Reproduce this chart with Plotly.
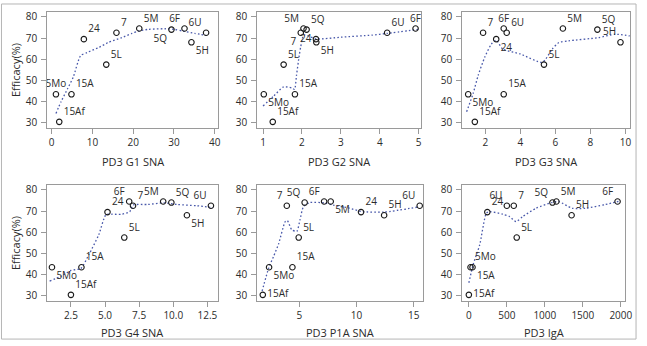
import plotly.graph_objects as go

# ---------------- data ----------------
serotypes = ["5M", "5Q", "6F", "6U", "7", "24", "5H", "5L", "5Mo", "15A", "15Af"]
efficacy = [74.5, 74.0, 74.5, 72.5, 72.5, 69.5, 68.0, 57.5, 43.5, 43.5, 30.5]

g1_sna = [21.5, 29.4, 32.6, 37.9, 15.9, 7.9, 34.3, 13.4, 1.05, 4.86, 1.86]
g2_sna = [2.04, 2.12, 4.92, 4.19, 1.97, 2.36, 2.37, 1.53, 1.02, 1.82, 1.25]
g3_sna = [6.43, 8.40, 3.05, 3.22, 1.87, 2.62, 9.72, 5.35, 1.02, 3.05, 1.40]
g4_sna = [9.26, 9.86, 6.77, 12.76, 7.05, 5.18, 11.0, 6.41, 1.11, 3.27, 2.5]
p1a_sna = [7.74, 5.46, 7.16, 15.52, 3.90, 10.39, 12.41, 4.94, 2.35, 4.39, 1.80]
iga = [1152, 1100, 1957, 500, 591, 243, 1352, 630, 22, 48, 0]

# smoothed trend curves
trend_g1_x = [1.05, 2.3, 3.9, 5.3, 7.1, 8.7, 11.6, 14.0, 17.2, 19.7, 21.3, 23.7, 27.8, 30.2, 32.2, 35.1, 37.9]
trend_g1_y = [34.5, 40.0, 46.1, 51.6, 61.7, 63.2, 65.6, 68.0, 70.2, 72.2, 73.3, 74.1, 74.4, 74.1, 73.3, 72.2, 71.3]
trend_g2_x = [1.0, 1.27, 1.53, 1.74, 1.81, 1.86, 1.93, 1.97, 2.05, 2.37, 3.0, 3.8, 4.19, 5.0]
trend_g2_y = [38.0, 42.6, 47.0, 46.5, 45.8, 52.4, 61.7, 66.0, 71.5, 69.6, 70.4, 71.4, 72.2, 74.1]
trend_g3_x = [0.93, 1.3, 1.59, 1.96, 2.34, 2.62, 3.0, 4.0, 5.26, 5.82, 6.2, 6.76, 8.46, 9.4, 10.25]
trend_g3_y = [35.3, 43.8, 52.4, 60.9, 67.1, 69.0, 64.8, 62.5, 58.6, 64.8, 67.9, 68.7, 70.2, 71.8, 71.0]
trend_g4_x = [0.94, 1.78, 2.5, 3.22, 3.82, 4.54, 5.06, 5.5, 6.21, 6.81, 7.05, 8.13, 9.33, 10.29, 11.73, 12.92]
trend_g4_y = [37.0, 39.3, 42.0, 42.9, 49.5, 58.8, 68.2, 68.5, 68.5, 69.7, 72.8, 73.1, 73.9, 73.1, 72.5, 71.6]
trend_p1a_x = [1.74, 2.32, 2.75, 3.18, 3.76, 3.95, 4.33, 4.77, 5.05, 5.35, 5.92, 7.2, 7.94, 9.35, 10.4, 12.4, 15.5]
trend_p1a_y = [32.3, 43.2, 48.7, 54.5, 65.0, 65.5, 61.2, 60.4, 65.8, 72.0, 74.0, 73.8, 72.8, 71.4, 69.8, 69.5, 72.0]
trend_iga_x = [0, 57, 143, 230, 274, 448, 535, 622, 709, 883, 1100, 1187, 1361, 1535, 1796, 1991]
trend_iga_y = [36.2, 44.8, 54.1, 69.0, 69.7, 68.5, 67.4, 65.0, 67.4, 71.3, 74.1, 74.4, 71.3, 71.3, 73.1, 74.7]

x_titles = ["PD3 G1 SNA", "PD3 G2 SNA", "PD3 G3 SNA", "PD3 G4 SNA", "PD3 P1A SNA", "PD3 IgA"]
y_title = "Efficacy(%)"
y_ticks = [30, 40, 50, 60, 70, 80]
x_ticks = [
    [0, 10, 20, 30, 40],
    [1, 2, 3, 4, 5],
    [2, 4, 6, 8, 10],
    [2.5, 5.0, 7.5, 10.0, 12.5],
    [5, 10, 15],
    [0, 500, 1000, 1500, 2000],
]

# ---------------- style / layout ----------------
W, H = 647, 346
FONT = "Open Sans, Noto Sans, Arial, sans-serif"
TEXT = "#2b2b2b"
AXC = "#9a9a9a"
LINEC = "#4858aa"

label_pos = [
    ["top right", "bottom left", "top left", "top left", "top right", "top right", "bottom right", "top right", "top center", "top right", "top right"],
    ["top left", "top right", "top center", "top right", "bottom left", "middle left", "bottom right", "top right", "bottom right", "top right", "top right"],
    ["top right", "top right", "top center", "top right", "top right", "bottom right", "top left", "top right", "bottom right", "top right", "top right"],
    ["top left", "top right", "top left", "top left", "top right", "top right", "bottom right", "top right", "bottom right", "top right", "top right"],
    ["bottom right", "top left", "top left", "top left", "top left", "top right", "top right", "top right", "bottom right", "top right", "middle right"],
    ["top right", "top left", "top left", "top left", "top right", "top right", "top right", "top right", "top right", "bottom right", "middle right"],
]

# pixel boxes (left, right, top, bottom)
boxes = [
    (47.7, 220.7, 9.3, 126.7),
    (260.0, 426.0, 9.3, 126.7),
    (467.3, 637.0, 9.3, 126.7),
    (47.7, 220.0, 184.3, 301.7),
    (260.0, 428.0, 184.3, 301.7),
    (467.3, 632.0, 184.3, 301.7),
]
x_ranges = [(-1.1, 40.9), (0.85, 5.07), (0.68, 10.27), (0.76, 13.25), (1.31, 15.84), (-87, 2057)]
y_range = (27.5, 82.2)
title_y_px = [160.0, 160.0, 160.0, 333.0, 333.0, 333.0]

xs = [g1_sna, g2_sna, g3_sna, g4_sna, p1a_sna, iga]
trends = [
    (trend_g1_x, trend_g1_y), (trend_g2_x, trend_g2_y), (trend_g3_x, trend_g3_y),
    (trend_g4_x, trend_g4_y), (trend_p1a_x, trend_p1a_y), (trend_iga_x, trend_iga_y),
]

fig = go.Figure()
layout = dict(
    width=W, height=H,
    margin=dict(l=0, r=0, t=0, b=0),
    paper_bgcolor="white", plot_bgcolor="white",
    showlegend=False,
    font=dict(family=FONT, size=10, color=TEXT),
)
annotations = []

for i in range(6):
    n = "" if i == 0 else str(i + 1)
    xa, ya = "x" + n, "y" + n
    l, r, t, b = boxes[i]
    tx, ty = trends[i]
    fig.add_trace(go.Scatter(
        x=tx, y=ty, mode="lines", xaxis=xa, yaxis=ya,
        line=dict(color=LINEC, width=1.3, dash="1.6px,2.2px", shape="spline", smoothing=0.6),
        hoverinfo="skip",
    ))
    fig.add_trace(go.Scatter(
        x=xs[i], y=efficacy, mode="markers+text", xaxis=xa, yaxis=ya,
        text=serotypes, textposition=label_pos[i],
        textfont=dict(family=FONT, size=10, color=TEXT),
        marker=dict(symbol="circle-open", size=5.5, color="#1a1a1a", line=dict(width=1.1, color="#1a1a1a")),
        cliponaxis=False,
    ))
    common = dict(
        showline=True, linecolor=AXC, linewidth=1, mirror=True,
        ticks="outside", ticklen=5, tickcolor=AXC, tickwidth=1,
        showgrid=False, zeroline=False,
        tickfont=dict(family=FONT, size=10, color=TEXT),
    )
    layout["xaxis" + n] = dict(
        common, domain=[l / W, r / W], range=list(x_ranges[i]), anchor=ya,
        tickvals=x_ticks[i],
        tickformat=".1f" if i == 3 else "d",
    )
    layout["yaxis" + n] = dict(
        common, domain=[1 - b / H, 1 - t / H], range=list(y_range), anchor=xa,
        tickvals=y_ticks, ticklabelstandoff=2,
    )
    annotations.append(dict(
        text=x_titles[i], xref="paper", yref="paper",
        x=(l + r) / 2 / W, y=1 - title_y_px[i] / H,
        xanchor="center", yanchor="middle", showarrow=False,
        font=dict(family=FONT, size=11, color=TEXT),
    ))
    if i in (0, 3):
        annotations.append(dict(
            text=y_title, xref="paper", yref="paper",
            x=15 / W, y=1 - (t + b) / 2 / H, textangle=-90,
            xanchor="center", yanchor="middle", showarrow=False,
            font=dict(family=FONT, size=11, color=TEXT),
        ))

layout["annotations"] = annotations
layout["shapes"] = [dict(
    type="rect", xref="paper", yref="paper",
    x0=1.5 / W, x1=643 / W, y0=1 - 340 / H, y1=1 - 1 / H,
    line=dict(color="#b5b5b5", width=1), fillcolor="rgba(0,0,0,0)", layer="below",
)]
fig.update_layout(**layout)
fig.write_html(
    "out.html",
    config={"displayModeBar": False},
    post_script="document.body.style.margin='0';document.body.style.overflow='hidden';",
)
